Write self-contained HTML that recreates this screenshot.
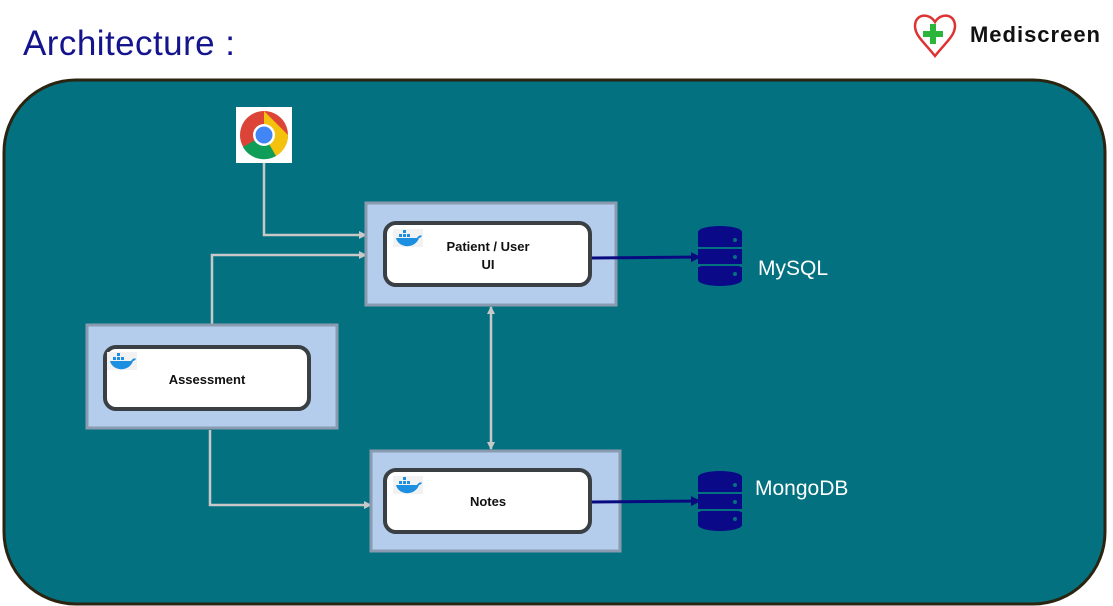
<!DOCTYPE html>
<html><head><style>body{margin:0;background:#fff}svg{display:block}</style></head><body>
<svg width="1113" height="606" viewBox="0 0 1113 606" xmlns="http://www.w3.org/2000/svg" font-family="Liberation Sans, sans-serif">
<defs>
<marker id="ga" markerWidth="8" markerHeight="8" refX="7" refY="4" orient="auto" markerUnits="userSpaceOnUse"><path d="M0,0 L8,4 L0,8z" fill="#c8c8c8"/></marker>
<marker id="gs" markerWidth="8" markerHeight="8" refX="1" refY="4" orient="auto" markerUnits="userSpaceOnUse"><path d="M8,0 L0,4 L8,8z" fill="#c8c8c8"/></marker>
<marker id="ba" markerWidth="10" markerHeight="10" refX="9" refY="5" orient="auto" markerUnits="userSpaceOnUse"><path d="M0,0 L10,5 L0,10z" fill="#0a0a80"/></marker>
<g id="db"><g fill="#0a0a88">
<ellipse cx="22" cy="6" rx="22" ry="6"/><rect x="0" y="6" width="44" height="14"/><ellipse cx="22" cy="20" rx="22" ry="6"/>
<rect x="0" y="23" width="44" height="15"/><ellipse cx="22" cy="38" rx="22" ry="6"/>
<rect x="0" y="41" width="44" height="13"/><ellipse cx="22" cy="54" rx="22" ry="6"/></g>
<g fill="#037180"><rect x="0" y="21" width="44" height="2"/><rect x="0" y="38" width="44" height="2"/></g>
<g fill="#037180"><circle cx="37" cy="14" r="2"/><circle cx="37" cy="31" r="2"/><circle cx="37" cy="48" r="2"/></g></g>
<g id="dk"><rect width="30" height="18" fill="#f2f2f2"/><path d="M3,9 h21 c2,-3 4,-3 5,-2 c-1,1 -2,2 -3,2 c-2,6 -8,9 -14,8 c-5,-1 -8,-4 -9,-8z" fill="#1d8fe0"/><g fill="#1d8fe0"><rect x="6" y="5" width="3" height="3"/><rect x="10" y="5" width="3" height="3"/><rect x="14" y="5" width="3" height="3"/><rect x="10" y="1" width="3" height="3"/></g></g>
</defs>
<text x="23" y="55" font-size="35" fill="#14148c" textLength="212">Architecture :</text>
<path d="M935,22 c-6,-10 -20,-8 -20,4 c0,10 10,17 20,30 c10,-13 20,-20 20,-30 c0,-12 -14,-14 -20,-4z" fill="none" stroke="#d33" stroke-width="2.5"/>
<rect x="930" y="24" width="6" height="20" fill="#2bb53b"/><rect x="923" y="31" width="20" height="6" fill="#2bb53b"/>
<text x="970" y="42" font-size="22" font-weight="bold" fill="#111" textLength="130">Mediscreen</text>
<rect x="4" y="80" width="1101" height="524" rx="72" fill="#037180" stroke="#2a2410" stroke-width="3"/>
<rect x="236" y="107" width="56" height="56" fill="#fff"/>
<circle cx="264" cy="135" r="24" fill="#db4437"/>
<path d="M264,135 L243,147 A24,24 0 0 0 276,156z" fill="#0f9d58"/>
<path d="M264,135 L276,156 A24,24 0 0 0 288,135 L264,111z" fill="#f4c20d"/>
<circle cx="264" cy="135" r="11" fill="#fff"/><circle cx="264" cy="135" r="8.5" fill="#4285f4"/>
<g fill="none" stroke="#c8c8c8" stroke-width="2.5">
<path d="M264,163 V235 H366" marker-end="url(#ga)"/>
<path d="M212,325 V255 H366" marker-end="url(#ga)"/>
<path d="M210,430 V505 H371" marker-end="url(#ga)"/>
<path d="M491,307 V449" marker-start="url(#gs)" marker-end="url(#ga)"/>
</g>
<g fill="#b4cdec" stroke="#8a9bb0" stroke-width="3">
<rect x="366" y="203" width="250" height="102"/><rect x="87" y="325" width="250" height="103"/><rect x="371" y="451" width="249" height="100"/>
</g>
<g fill="#fff" stroke="#3a3f44" stroke-width="4">
<rect x="385" y="223" width="205" height="62" rx="11"/><rect x="105" y="347" width="204" height="62" rx="11"/><rect x="385" y="470" width="205" height="62" rx="11"/>
</g>
<use href="#dk" x="393" y="229"/><use href="#dk" x="107" y="352"/><use href="#dk" x="393" y="476"/>
<g font-size="13" font-weight="bold" fill="#111" text-anchor="middle">
<text x="488" y="251">Patient / User</text><text x="488" y="269">UI</text>
<text x="207" y="384">Assessment</text><text x="488" y="506">Notes</text></g>
<g stroke="#0a0a80" stroke-width="3" fill="none">
<path d="M592,258 L700,257" marker-end="url(#ba)"/><path d="M592,502 L700,501" marker-end="url(#ba)"/></g>
<use href="#db" x="698" y="226"/><use href="#db" x="698" y="471"/>
<g font-size="21" fill="#fff"><text x="758" y="275">MySQL</text><text x="755" y="495">MongoDB</text></g>
</svg>
</body></html>
